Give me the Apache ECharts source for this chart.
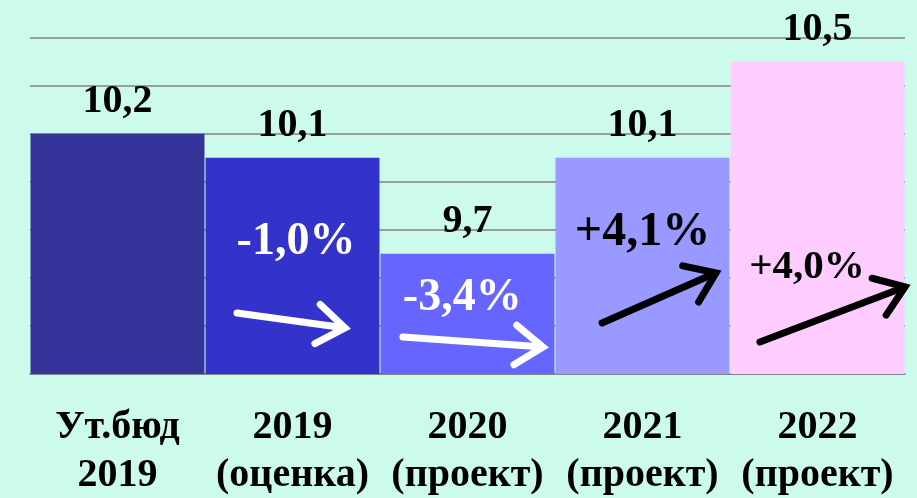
<!DOCTYPE html>
<html>
<head>
<meta charset="utf-8">
<script src="https://cdn.jsdelivr.net/npm/echarts@6/dist/echarts.min.js"></script>
<style>
  html, body { margin: 0; padding: 0; background: #ccfbeb; }
  #main { width: 917px; height: 498px; }
</style>
</head>
<body>
<div id="main"></div>
<script>
  // данные
  const categories = ['Ут.бюд\n2019', '2019\n(оценка)', '2020\n(проект)', '2021\n(проект)', '2022\n(проект)'];
  const values = [10.2, 10.1, 9.7, 10.1, 10.5];
  const changeLabels = ['-1,0%', '-3,4%', '+4,1%', '+4,0%'];
  const yMin = 9.2, yMax = 10.6, yStep = 0.2;

  // оформление
  const barColors = ['#333399', '#3333cc', '#6666ff', '#9999ff', '#ffccff'];
  const serif = '"Liberation Serif", "Times New Roman", serif';

  // подписи изменений и стрелки (в координатах осей)
  const changeAnchors = [[1.02, 9.75], [1.97, 9.517], [3.0, 9.787], [3.94, 9.642]];
  const changeStyles = [
    { color: '#fff', fontSize: 46 },
    { color: '#fff', fontSize: 46 },
    { color: '#000', fontSize: 48 },
    { color: '#000', fontSize: 41 }
  ];
  const arrows = [
    [0.683, 9.454, 1.30, 9.392, '#fff'],
    [1.631, 9.354, 2.431, 9.3125, '#fff'],
    [2.769, 9.4125, 3.42, 9.621, '#000'],
    [3.671, 9.333, 4.50, 9.5625, '#000']
  ];

  const myChart = echarts.init(document.getElementById('main'));

  const option = {
    backgroundColor: '#ccfbeb',
    animation: false,
    grid: { left: 30, right: 12, top: 37.5, bottom: 124, outerBoundsMode: 'none' },
    xAxis: [{
      type: 'category',
      data: categories,
      axisLine: { lineStyle: { color: '#808080', width: 1.5 } },
      axisTick: { length: 12, lineStyle: { color: '#808080', width: 1.5 } },
      axisLabel: {
        color: '#000', fontFamily: serif, fontWeight: 'bold',
        fontSize: 40, lineHeight: 48, margin: 30, interval: 0
      }
    }, {
      type: 'value', min: -0.5, max: 4.5, show: false
    }],
    yAxis: {
      type: 'value',
      min: yMin, max: yMax, interval: yStep,
      axisLine: { show: false },
      axisTick: { show: false },
      axisLabel: { show: false },
      splitLine: { lineStyle: { color: '#808080', width: 1.5 } }
    },
    series: [{
      type: 'bar',
      barCategoryGap: '0.6%',
      data: values.map((v, i) => ({ value: v, itemStyle: { color: barColors[i] } })),
      label: {
        show: true, position: 'top', distance: 12,
        color: '#000', fontFamily: serif, fontWeight: 'bold', fontSize: 40,
        formatter: p => String(p.value).replace('.', ',')
      }
    }, {
      type: 'custom',
      xAxisIndex: 1,
      z: 5,
      clip: false,
      data: arrows,
      renderItem: (params, api) => {
        const p0 = api.coord([api.value(0), api.value(1)]);
        const p1 = api.coord([api.value(2), api.value(3)]);
        const color = arrows[params.dataIndex][4];
        const ang = Math.atan2(p1[1] - p0[1], p1[0] - p0[0]);
        const L = 34, a = 0.62;
        const h1 = [p1[0] - L * Math.cos(ang - a), p1[1] - L * Math.sin(ang - a)];
        const h2 = [p1[0] - L * Math.cos(ang + a), p1[1] - L * Math.sin(ang + a)];
        const style = { stroke: color, lineWidth: 7, fill: null, lineJoin: 'miter', lineCap: 'round' };
        return {
          type: 'group',
          children: [
            { type: 'polyline', shape: { points: [p0, [p1[0] - 3 * Math.cos(ang), p1[1] - 3 * Math.sin(ang)]] }, style },
            { type: 'polyline', shape: { points: [h1, p1, h2] }, style }
          ]
        };
      }
    }, {
      type: 'custom',
      xAxisIndex: 1,
      z: 6,
      clip: false,
      data: changeLabels.map((t, i) => [changeAnchors[i][0], changeAnchors[i][1], t]),
      renderItem: (params, api) => {
        const p = api.coord([api.value(0), api.value(1)]);
        const s = changeStyles[params.dataIndex];
        return {
          type: 'text',
          x: p[0], y: p[1],
          style: {
            text: changeLabels[params.dataIndex],
            fill: s.color,
            font: 'bold ' + s.fontSize + 'px ' + serif,
            align: 'center', verticalAlign: 'middle'
          }
        };
      }
    }]
  };

  myChart.setOption(option);
</script>
</body>
</html>
